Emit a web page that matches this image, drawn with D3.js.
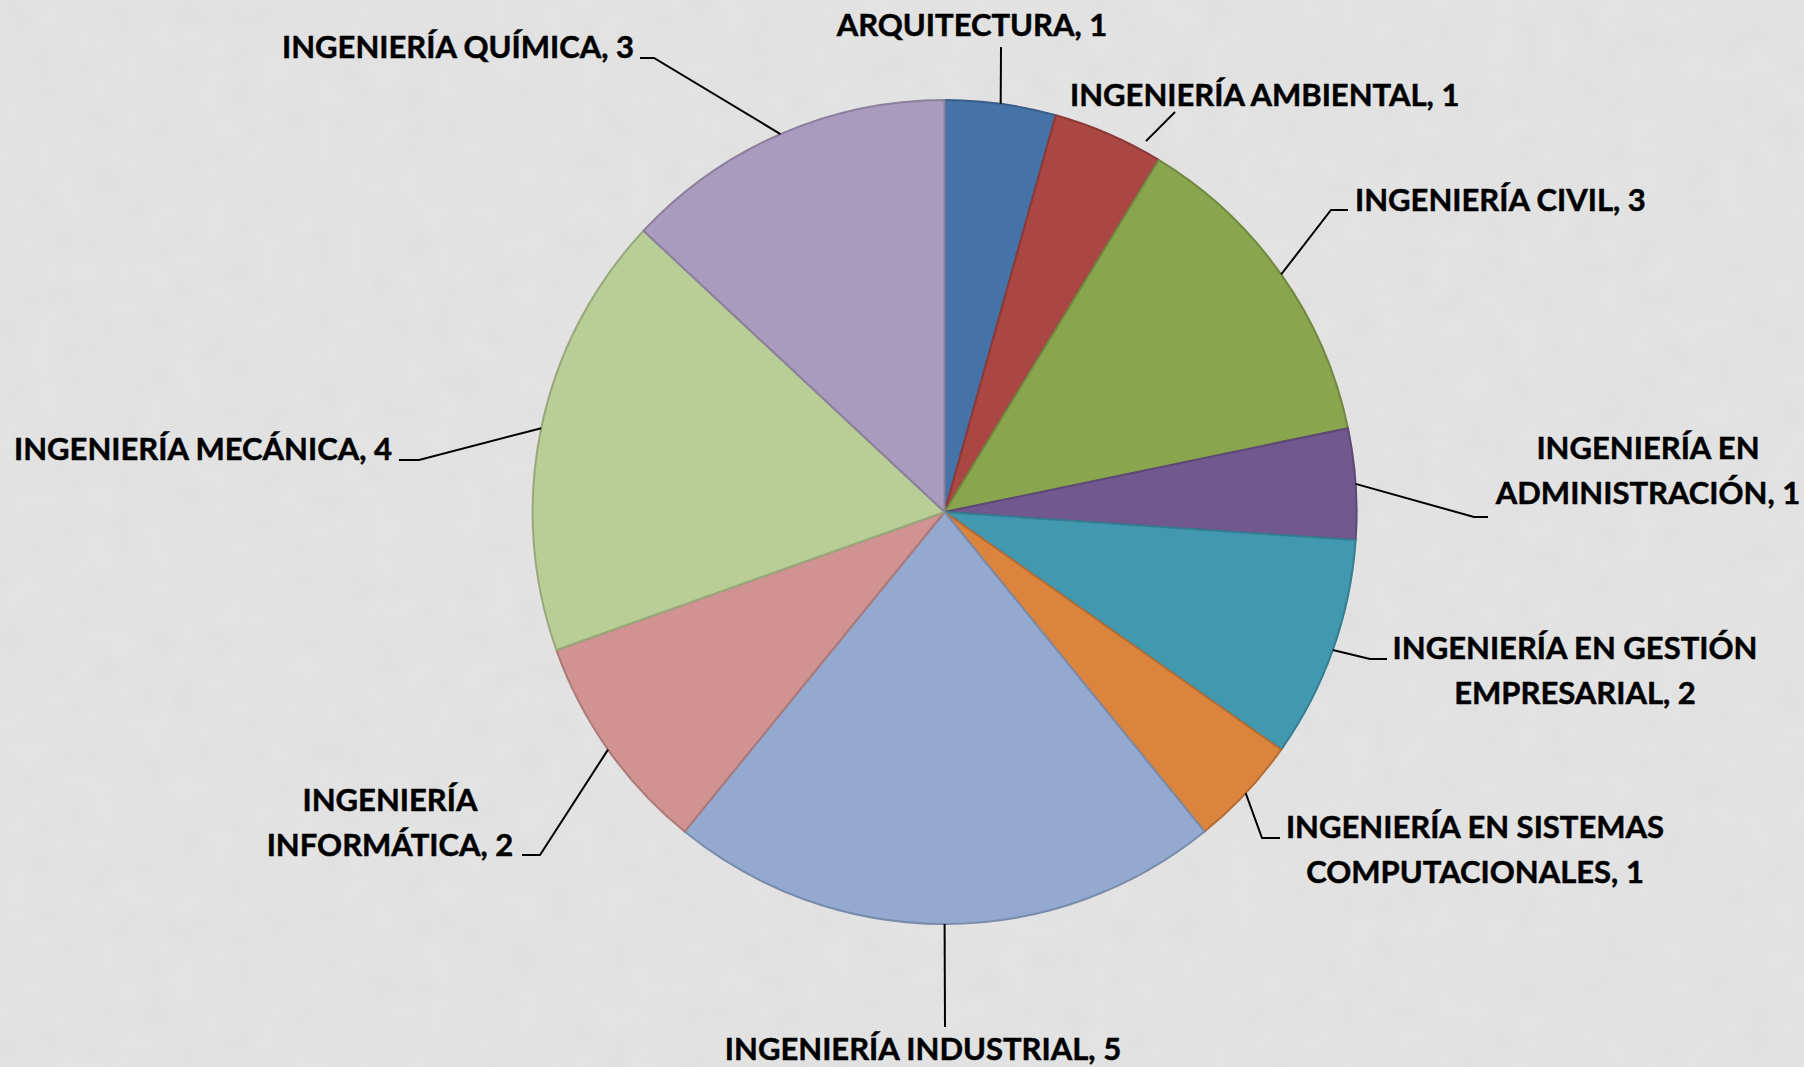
<!DOCTYPE html>
<html lang="es">
<head>
    <meta charset="UTF-8">
    <title>Carreras</title>
    <script src="https://d3js.org/d3.v7.min.js"></script>
    <style>
        body, html {
            margin: 0;
            padding: 0;
            overflow: hidden;
            background-color: #e2e2e2;
        }
        .label {
            font-family: 'Lato', 'Open Sans', sans-serif;
            font-weight: 700;
            font-size: 31px;
            fill: #000;
            stroke: #000;
            stroke-width: 0.5px;
        }
    </style>
</head>
<body>
<svg id="chart"></svg>

<script>
    // data
    const categories = [
        "ARQUITECTURA",
        "INGENIERÍA AMBIENTAL",
        "INGENIERÍA CIVIL",
        "INGENIERÍA EN ADMINISTRACIÓN",
        "INGENIERÍA EN GESTIÓN EMPRESARIAL",
        "INGENIERÍA EN SISTEMAS COMPUTACIONALES",
        "INGENIERÍA INDUSTRIAL",
        "INGENIERÍA INFORMÁTICA",
        "INGENIERÍA MECÁNICA",
        "INGENIERÍA QUÍMICA"
    ];
    const values = [1, 1, 3, 1, 2, 1, 5, 2, 4, 3];
    const colors = ["#4572a7", "#aa4643", "#89a54e", "#71588f", "#4198af",
                    "#db843d", "#93a9cf", "#d19392", "#b9cd96", "#a99bbd"];

    // where each label sits (hand placed, like the original)
    // x/y = first baseline, wrap = words on first line, elbow/end = leader bend
    const labelLayout = [
        {x: 972, y: 36, anchor: "middle", elbow: [1001, 47], end: [1001, 47]},
        {x: 1070, y: 106, anchor: "start", elbow: [1175, 112], end: [1175, 112], from: [28.5, 422]},
        {x: 1355, y: 211, anchor: "start", elbow: [1331, 210], end: [1348, 210]},
        {x: 1648, y: 459, anchor: "middle", wrap: 2, elbow: [1474, 517], end: [1488, 517]},
        {x: 1575, y: 659, anchor: "middle", wrap: 3, elbow: [1370, 659], end: [1387, 659]},
        {x: 1475, y: 838, anchor: "middle", wrap: 3, elbow: [1262, 838], end: [1280, 838]},
        {x: 923, y: 1060, anchor: "middle", elbow: [945, 1027], end: [945, 1027]},
        {x: 390, y: 811, anchor: "middle", wrap: 1, elbow: [540, 855], end: [522, 855]},
        {x: 392, y: 460, anchor: "end", elbow: [419, 460], end: [399, 460]},
        {x: 634, y: 58, anchor: "end", elbow: [654, 58], end: [640, 58]}
    ];

    const width = 1804, height = 1067;
    const cx = 944.6, cy = 512, radius = 412;
    const lineHeight = 45;

    const svg = d3.select("#chart")
        .attr("width", width)
        .attr("height", height);

    // faint paper texture in the background
    const defs = svg.append("defs");
    const tex = defs.append("filter").attr("id", "paper")
        .attr("x", 0).attr("y", 0).attr("width", "100%").attr("height", "100%");
    tex.append("feTurbulence")
        .attr("type", "fractalNoise")
        .attr("baseFrequency", 0.035)
        .attr("numOctaves", 3)
        .attr("seed", 4);
    tex.append("feColorMatrix")
        .attr("type", "matrix")
        .attr("values", "0 0 0 0 0.5  0 0 0 0 0.5  0 0 0 0 0.5  0 0 0 -1.1 0.75");

    svg.append("rect")
        .attr("width", width).attr("height", height)
        .attr("fill", "#e3e3e3");
    svg.append("rect")
        .attr("width", width).attr("height", height)
        .attr("filter", "url(#paper)")
        .attr("opacity", 0.12);

    const pie = d3.pie().sort(null).value(d => d)(values);
    const arc = d3.arc().innerRadius(0).outerRadius(radius);

    const g = svg.append("g").attr("transform", `translate(${cx},${cy})`);

    g.selectAll("path.slice")
        .data(pie)
        .join("path")
        .attr("class", "slice")
        .attr("d", arc)
        .attr("fill", (d, i) => colors[i])
        .attr("stroke", (d, i) => d3.color(colors[i]).darker(0.55))
        .attr("stroke-width", 2)
        .attr("stroke-linejoin", "round");

    // leader lines start at the middle of each slice's edge
    const edge = d3.arc().innerRadius(radius).outerRadius(radius);

    pie.forEach((d, i) => {
        const lay = labelLayout[i];
        let start;
        if (lay.from) {
            const a = lay.from[0] * Math.PI / 180;
            start = [cx + lay.from[1] * Math.sin(a), cy - lay.from[1] * Math.cos(a)];
        } else {
            const c = edge.centroid(d);
            start = [cx + c[0], cy + c[1]];
        }
        svg.append("polyline")
            .attr("points", [start, lay.elbow, lay.end].map(p => p.join(",")).join(" "))
            .attr("fill", "none")
            .attr("stroke", "#000")
            .attr("stroke-width", 2);

        const words = (categories[i] + ", " + values[i]).split(" ");
        const lines = lay.wrap ? [words.slice(0, lay.wrap).join(" "), words.slice(lay.wrap).join(" ")]
                               : [words.join(" ")];
        const t = svg.append("text")
            .attr("class", "label")
            .attr("text-anchor", lay.anchor);
        lines.forEach((ln, k) => {
            t.append("tspan")
                .attr("x", lay.x)
                .attr("y", lay.y + k * lineHeight)
                .text(ln);
        });
    });
</script>
</body>
</html>
